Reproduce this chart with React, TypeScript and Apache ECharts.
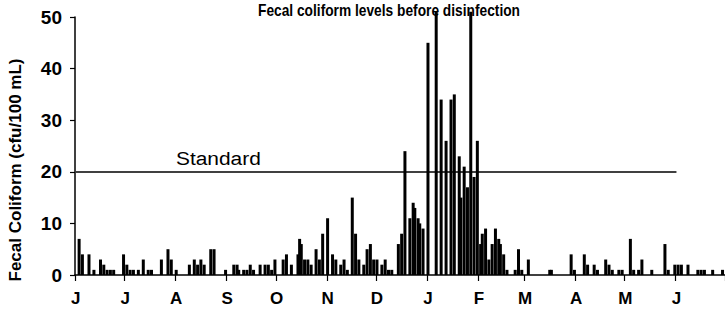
import React, { useEffect, useRef } from 'react';
import * as echarts from 'echarts';

const FONT = '"Liberation Sans", Arial, Helvetica, sans-serif';

const TOTAL_DAYS = 395; // June 1 to end of July the following year
const monthStarts = [0, 30, 61, 92, 122, 153, 183, 214, 245, 273, 304, 334, 365];
const monthLabels = ['J', 'J', 'A', 'S', 'O', 'N', 'D', 'J', 'F', 'M', 'A', 'M', 'J'];

// day index (from June 1) of each sample
const sampleDays = [
  2, 4, 8, 11, 15, 17, 19, 21, 23, 29, 31, 33, 35, 38, 41, 44, 46, 52, 56, 58, 61,
  69, 72, 74, 76, 78, 82, 84, 91, 96, 98, 99, 102, 104, 106, 108, 112, 115, 117, 119, 121,
  126, 128, 131, 135, 136, 137, 139, 141, 143, 146, 148, 150, 153, 156, 158,
  161, 163, 165, 168, 170, 172, 175, 177, 179, 181, 183, 186, 188, 190, 192,
  196, 198, 200, 203, 205, 206, 208, 209, 211,
  214, 219, 222, 225, 228, 230, 233, 234, 236, 238, 240, 242, 244,
  246, 247, 249, 251, 253, 255, 257, 258, 260, 262, 267, 269, 271,
  275, 288, 289, 301, 303, 309, 311, 315, 317, 322, 324, 326, 330, 332,
  337, 339, 342, 344, 350, 358, 360, 364, 366, 368, 372, 378, 380, 382, 387, 393,
];
// fecal coliform (cfu/100 mL) of each sample
const sampleValues = [
  7, 4, 4, 1, 3, 2, 1, 1, 1, 4, 2, 1, 1, 1, 3, 1, 1, 3, 5, 3, 1,
  2, 3, 2, 3, 2, 5, 5, 1, 2, 2, 1, 1, 1, 2, 1, 2, 2, 2, 1, 3,
  3, 4, 2, 4, 7, 6, 3, 3, 2, 5, 3, 8, 11, 4, 3,
  2, 3, 1, 15, 8, 3, 2, 5, 6, 3, 3, 2, 3, 1, 1,
  6, 8, 24, 11, 14, 13, 11, 10, 9,
  45, 51, 34, 26, 34, 35, 23, 15, 21, 17, 51, 19, 26,
  6, 8, 9, 3, 6, 9, 7, 6, 4, 1, 1, 5, 1,
  3, 1, 1, 4, 1, 4, 2, 2, 1, 3, 2, 1, 1, 1,
  7, 1, 1, 3, 1, 6, 1, 2, 2, 2, 2, 1, 1, 1, 1, 1,
];

const standardValue = 20;
const standardEndDay = 365;

export default function App() {
  const ref = useRef<HTMLDivElement>(null);

  useEffect(() => {
    document.body.style.margin = '0';
    const chart = echarts.init(ref.current as HTMLDivElement, null, { renderer: 'svg' });

    const categories = Array.from({ length: TOTAL_DAYS }, (_, i) => String(i));
    const values: (number | null)[] = new Array(TOTAL_DAYS).fill(null);
    sampleDays.forEach((d, i) => {
      values[d] = sampleValues[i];
    });
    const isMonthStart = (i: number) => monthStarts.indexOf(i) >= 0;

    chart.setOption({
      animation: false,
      backgroundColor: '#fff',
      grid: { left: 75, right: 0, top: 17, bottom: 43, containLabel: false },
      xAxis: {
        type: 'category',
        data: categories,
        boundaryGap: true,
        axisLine: { show: true, lineStyle: { color: '#000', width: 1.5 } },
        axisTick: {
          show: true,
          interval: (i: number) => isMonthStart(i),
          length: 6,
          lineStyle: { color: '#000', width: 1.2 },
        },
        axisLabel: {
          interval: (i: number) => isMonthStart(i),
          formatter: (v: string) => {
            const k = monthStarts.indexOf(Number(v));
            return k >= 0 ? monthLabels[k] : '';
          },
          color: '#000',
          fontFamily: FONT,
          fontSize: 17,
          fontWeight: 'bold',
          margin: 15,
        },
        splitLine: { show: false },
      },
      yAxis: {
        type: 'value',
        min: 0,
        max: 50,
        interval: 10,
        axisLine: { show: true, lineStyle: { color: '#000', width: 1.5 } },
        axisTick: { show: true, length: 5, lineStyle: { color: '#000', width: 1.2 } },
        splitLine: { show: false },
        axisLabel: {
          color: '#000',
          fontFamily: FONT,
          fontSize: 19,
          fontWeight: 'bold',
          margin: 13,
        },
      },
      series: [
        {
          type: 'bar',
          data: values,
          barWidth: 3,
          clip: false,
          itemStyle: { color: '#000' },
          markLine: {
            silent: true,
            symbol: 'none',
            label: { show: false },
            lineStyle: { color: '#000', width: 1.5, type: 'solid' },
            data: [[{ coord: [0, standardValue] }, { coord: [standardEndDay, standardValue] }]],
          },
        },
      ],
      graphic: [
        {
          type: 'text',
          x: 389,
          y: 10,
          scaleX: 0.86,
          style: {
            text: 'Fecal coliform levels before disinfection',
            fontFamily: FONT,
            fontSize: 16,
            fontWeight: 'bold',
            fill: '#000',
            align: 'center',
            verticalAlign: 'middle',
          },
        },
        {
          type: 'text',
          x: 176,
          y: 158,
          scaleX: 1.1,
          style: {
            text: 'Standard',
            fontFamily: FONT,
            fontSize: 19,
            fill: '#000',
            align: 'left',
            verticalAlign: 'middle',
          },
        },
        {
          type: 'text',
          x: 15,
          y: 170,
          rotation: Math.PI / 2,
          style: {
            text: 'Fecal Coliform (cfu/100 mL)',
            fontFamily: FONT,
            fontSize: 17,
            fontWeight: 'bold',
            fill: '#000',
            align: 'center',
            verticalAlign: 'middle',
          },
        },
      ],
    });

    return () => {
      chart.dispose();
    };
  }, []);

  return <div ref={ref} style={{ width: 725, height: 318 }} />;
}
